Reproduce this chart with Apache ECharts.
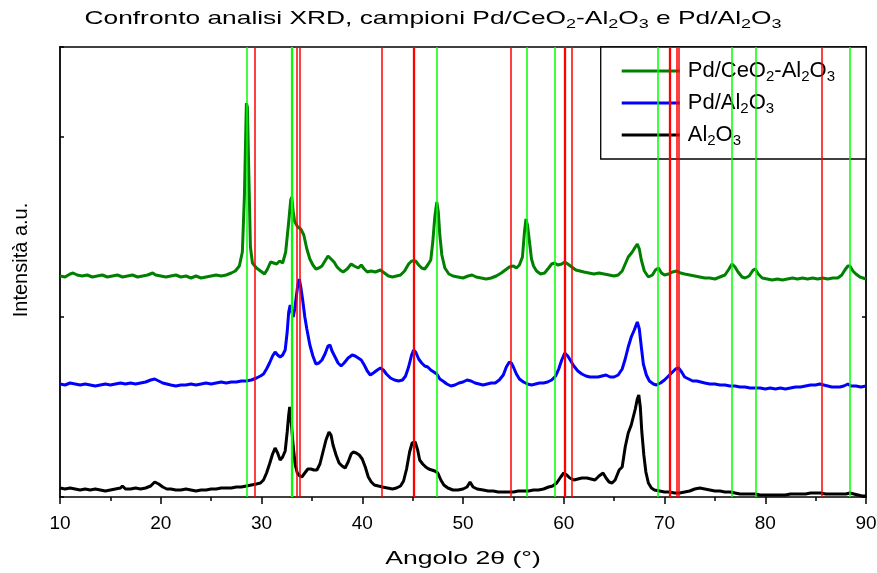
<!DOCTYPE html>
<html>
<head>
<meta charset="utf-8">
<script src="https://cdn.jsdelivr.net/npm/echarts@6/dist/echarts.min.js"></script>
<style>html,body{margin:0;padding:0;background:#fff}#c{width:877px;height:573px}</style>
</head>
<body>
<div id="c"></div>
<script>
// ---- data ----
const seriesNames = ['Pd/CeO2-Al2O3', 'Pd/Al2O3', 'Al2O3'];
const xTicks = [10, 20, 30, 40, 50, 60, 70, 80, 90];
const greenRefLines = [28.56, 33.0, 47.39, 56.28, 59.06, 69.36, 76.67, 79.01, 88.38];
const redRefLines = [29.29, 33.49, 33.75, 41.96, 45.07, 54.7, 60.12, 60.82, 70.51, 71.24, 71.44, 85.57];

const pdCeAl = [
[10.0,221],[10.5,220],[11.0,223],[11.3,224],[11.7,222],[12.2,221],[12.7,222],[13.2,220],[13.7,221],[14.2,222],[14.7,220],[15.2,221],[15.7,222],[16.2,220],[16.7,221],[17.2,222],[17.7,220],[18.2,221],[18.7,222],[19.2,224],[19.5,222],[20.0,221],[20.5,220],[21.0,221],[21.5,222],[22.0,220],[22.5,221],[23.0,219],[23.5,221],[24.0,219],[24.5,220],[25.0,221],[25.5,222],[26.0,221],[26.5,222],[27.0,224],[27.4,226],[27.8,231],[28.1,245],[28.3,300],[28.5,394],[28.6,390],[28.75,320],[28.9,250],[29.1,234],[29.5,229],[29.9,226],[30.3,223],[30.6,228],[30.9,235],[31.2,234],[31.5,233],[31.8,236],[32.1,234],[32.4,245],[32.7,275],[32.9,297],[33.0,300],[33.15,285],[33.3,275],[33.6,270],[33.9,268],[34.2,262],[34.5,248],[34.8,238],[35.1,232],[35.4,228],[35.7,229],[36.0,231],[36.3,236],[36.6,241],[36.9,238],[37.2,235],[37.5,230],[37.8,227],[38.1,225],[38.5,228],[38.9,233],[39.2,231],[39.6,229],[39.9,232],[40.2,228],[40.5,225],[40.9,226],[41.3,225],[41.8,227],[42.2,224],[42.6,221],[43.0,220],[43.4,221],[43.8,222],[44.2,226],[44.6,233],[44.9,236],[45.3,236],[45.6,232],[45.9,229],[46.2,228],[46.5,232],[46.8,237],[47.0,255],[47.2,280],[47.4,295],[47.55,285],[47.7,262],[47.9,242],[48.2,229],[48.6,223],[49.0,221],[49.5,220],[50.0,219],[50.5,221],[50.9,222],[51.3,220],[51.8,219],[52.3,218],[52.8,219],[53.3,221],[53.8,224],[54.2,227],[54.6,230],[55.0,231],[55.3,229],[55.6,232],[55.9,240],[56.1,265],[56.25,278],[56.4,272],[56.6,255],[56.8,238],[57.0,231],[57.3,226],[57.7,223],[58.1,224],[58.5,229],[58.8,233],[59.1,234],[59.4,232],[59.8,233],[60.1,235],[60.4,233],[60.8,230],[61.2,227],[61.6,226],[62.0,225],[62.5,224],[63.0,223],[63.5,224],[64.0,223],[64.5,222],[65.0,221],[65.4,222],[65.8,226],[66.1,233],[66.4,240],[66.8,245],[67.1,250],[67.3,253],[67.5,248],[67.7,237],[68.0,226],[68.4,220],[68.8,222],[69.1,227],[69.4,229],[69.7,224],[70.0,222],[70.4,223],[70.8,225],[71.2,226],[71.6,224],[72.0,223],[72.5,222],[73.0,221],[73.5,220],[74.0,219],[74.5,219],[75.0,218],[75.5,220],[76.0,222],[76.4,228],[76.7,233],[77.0,230],[77.3,225],[77.7,220],[78.0,219],[78.4,221],[78.8,227],[79.0,228],[79.3,223],[79.7,219],[80.2,218],[80.7,217],[81.2,218],[81.7,217],[82.2,218],[82.7,219],[83.2,218],[83.7,219],[84.2,218],[84.7,219],[85.2,218],[85.7,219],[86.2,218],[86.7,219],[87.2,219],[87.6,222],[87.9,227],[88.2,231],[88.4,231],[88.7,226],[89.0,223],[89.4,220],[89.7,219],[90.0,218]
];

const pdAl = [
[10.0,113],[10.5,112],[11.0,114],[11.5,113],[12.0,112],[12.5,113],[13.0,112],[13.5,111],[14.0,112],[14.5,113],[15.0,112],[15.5,113],[16.0,114],[16.5,113],[17.0,114],[17.5,113],[18.0,114],[18.5,115],[19.0,117],[19.4,118],[19.8,116],[20.2,114],[20.6,113],[21.0,112],[21.5,111],[22.0,112],[22.5,112],[23.0,113],[23.5,112],[24.0,113],[24.5,114],[25.0,113],[25.5,114],[26.0,115],[26.5,114],[27.0,115],[27.5,115],[28.0,116],[28.5,116],[29.0,117],[29.5,119],[29.9,121],[30.2,123],[30.5,128],[30.8,134],[31.1,141],[31.35,145],[31.6,142],[31.85,140],[32.1,142],[32.35,147],[32.55,165],[32.7,185],[32.85,192],[33.0,185],[33.15,180],[33.3,188],[33.45,200],[33.6,212],[33.75,218],[33.9,210],[34.1,196],[34.3,180],[34.5,168],[34.8,152],[35.1,141],[35.4,133],[35.7,134],[36.0,137],[36.3,143],[36.6,151],[36.8,152],[37.0,146],[37.3,140],[37.6,134],[37.9,131],[38.2,134],[38.6,139],[39.0,142],[39.3,141],[39.6,139],[39.9,137],[40.2,132],[40.5,126],[40.8,122],[41.1,124],[41.5,127],[41.8,129],[42.1,127],[42.4,123],[42.8,119],[43.2,117],[43.6,116],[44.0,117],[44.3,121],[44.6,130],[44.9,142],[45.1,147],[45.3,145],[45.6,138],[45.9,134],[46.2,131],[46.5,130],[46.8,127],[47.1,125],[47.4,123],[47.7,118],[48.0,116],[48.4,113],[48.8,111],[49.2,112],[49.6,114],[50.0,115],[50.4,117],[50.8,116],[51.2,114],[51.6,113],[52.0,112],[52.4,113],[52.8,114],[53.2,114],[53.6,117],[54.0,122],[54.3,130],[54.6,135],[54.8,134],[55.0,130],[55.3,123],[55.6,118],[56.0,115],[56.4,113],[56.8,112],[57.2,113],[57.6,114],[58.0,114],[58.4,115],[58.8,117],[59.2,121],[59.5,128],[59.8,137],[60.1,144],[60.4,141],[60.7,136],[61.0,131],[61.4,126],[61.8,123],[62.2,121],[62.6,120],[63.0,120],[63.4,120],[63.8,121],[64.2,122],[64.6,120],[65.0,120],[65.4,122],[65.8,128],[66.1,138],[66.4,150],[66.7,160],[67.0,167],[67.3,175],[67.5,168],[67.7,150],[67.9,133],[68.2,122],[68.5,116],[68.9,113],[69.2,112],[69.6,114],[70.0,117],[70.4,121],[70.8,125],[71.1,128],[71.4,129],[71.7,125],[72.0,120],[72.4,118],[72.8,116],[73.2,116],[73.6,115],[74.0,114],[74.5,113],[75.0,113],[75.5,112],[76.0,112],[76.5,111],[77.0,111],[77.5,110],[78.0,110],[78.5,109],[79.0,109],[79.5,109],[80.0,108],[80.5,109],[81.0,108],[81.5,109],[82.0,108],[82.5,109],[83.0,110],[83.5,110],[84.0,111],[84.5,112],[85.0,112],[85.4,113],[85.8,112],[86.2,111],[86.6,110],[87.0,110],[87.4,110],[87.8,111],[88.2,113],[88.5,111],[89.0,111],[89.5,110],[90.0,111]
];

const al = [
[10.0,9],[10.5,8],[11.0,9],[11.5,8],[12.0,7],[12.5,8],[13.0,7],[13.5,8],[14.0,7],[14.5,6],[15.0,7],[15.5,8],[16.0,9],[16.2,11],[16.5,8],[17.0,8],[17.5,9],[18.0,8],[18.5,9],[19.0,11],[19.4,15],[19.8,13],[20.2,10],[20.6,8],[21.0,8],[21.5,7],[22.0,7],[22.5,8],[23.0,7],[23.5,6],[24.0,7],[24.5,7],[25.0,8],[25.5,8],[26.0,9],[26.5,9],[27.0,9],[27.5,10],[28.0,10],[28.5,11],[29.0,12],[29.5,13],[29.9,14],[30.2,17],[30.5,24],[30.8,33],[31.1,43],[31.35,49],[31.6,44],[31.85,37],[32.1,40],[32.35,46],[32.55,65],[32.7,82],[32.8,90],[32.95,75],[33.15,50],[33.35,32],[33.55,24],[33.8,21],[34.0,20],[34.3,24],[34.6,28],[34.9,28],[35.2,27],[35.5,27],[35.8,33],[36.1,45],[36.4,57],[36.7,65],[36.9,62],[37.1,52],[37.4,42],[37.7,34],[38.0,31],[38.3,29],[38.6,35],[38.9,43],[39.1,45],[39.4,44],[39.7,42],[40.0,38],[40.3,30],[40.6,20],[40.9,15],[41.2,12],[41.6,11],[42.0,10],[42.5,9],[43.0,8],[43.4,9],[43.8,11],[44.1,16],[44.4,28],[44.7,45],[44.95,54],[45.25,55],[45.5,47],[45.7,37],[46.0,33],[46.3,30],[46.6,28],[46.9,27],[47.2,26],[47.5,24],[47.8,17],[48.1,12],[48.5,9],[49.0,7],[49.5,7],[50.0,8],[50.4,10],[50.7,15],[51.0,10],[51.4,8],[52.0,7],[52.5,6],[53.0,6],[53.5,5],[54.0,5],[54.5,5],[55.0,5],[55.5,6],[56.0,6],[56.5,6],[57.0,7],[57.5,7],[58.0,8],[58.5,10],[58.9,11],[59.3,14],[59.7,20],[60.0,24],[60.3,22],[60.6,19],[61.0,17],[61.4,18],[61.8,19],[62.3,19],[62.7,18],[63.1,17],[63.5,21],[63.9,24],[64.2,19],[64.5,15],[64.8,14],[65.1,17],[65.5,27],[65.8,30],[66.1,50],[66.4,64],[66.7,72],[66.9,80],[67.1,88],[67.3,98],[67.45,102],[67.6,90],[67.75,65],[67.95,42],[68.15,25],[68.4,14],[68.7,9],[69.0,7],[69.5,6],[70.0,5],[70.5,5],[71.0,4],[71.5,4],[72.0,5],[72.5,6],[73.0,8],[73.5,9],[74.0,8],[74.5,7],[75.0,6],[75.5,6],[76.0,5],[76.5,5],[77.0,4],[77.5,3],[78.0,3],[78.5,3],[79.0,3],[79.5,2],[80.0,2],[80.5,2],[81.0,2],[81.5,2],[82.0,2],[82.5,3],[83.0,3],[83.5,3],[84.0,3],[84.5,4],[85.0,4],[85.5,4],[86.0,3],[86.5,3],[87.0,3],[87.5,3],[88.0,3],[88.4,4],[88.8,3],[89.2,2],[89.6,1],[90.0,1]
];

// ---- chart ----
const FONT = 'Liberation Sans, Arial, sans-serif';
const titleText = 'Confronto analisi XRD, campioni Pd/CeO{s|2}-Al{s|2}O{s|3} e Pd/Al{s|2}O{s|3}';
const xName = 'Angolo 2θ (°)';
const yName = 'Intensità a.u.';
const legendLabels = {
  'Pd/CeO2-Al2O3': 'Pd/CeO{s|2}-Al{s|2}O{s|3}',
  'Pd/Al2O3': 'Pd/Al{s|2}O{s|3}',
  'Al2O3': 'Al{s|2}O{s|3}'
};
const colors = ['#008000', '#0000ff', '#000000'];
const curves = [pdCeAl, pdAl, al];
// reference lines drawn slightly heavier (style only)
const heavyLines = [33.0, 45.07, 60.12, 70.51];

const chart = echarts.init(document.getElementById('c'), null, {renderer: 'canvas'});
const series = curves.map((d, i) => ({
  name: seriesNames[i], type: 'line', data: d, showSymbol: false, symbol: 'none',
  color: colors[i], lineStyle: {color: colors[i], width: 3}, z: 3,
  emphasis: {disabled: true}, silent: true, animation: false
}));
const refSeries = (vals, col) => ({
  type: 'line', data: [], silent: true, z: 4,
  markLine: {
    silent: true, symbol: ['none', 'none'], label: {show: false}, animation: false,
    lineStyle: {color: col, width: 1.5, type: 'solid'},
    emphasis: {disabled: true},
    data: vals.map(v => ({xAxis: v, lineStyle: {color: col, width: heavyLines.includes(v) ? 2.3 : 1.5}}))
  }
});
series.push(refSeries(greenRefLines, '#00ff00'));
series.push(refSeries(redRefLines, '#ff0000'));

chart.setOption({
  animation: false,
  backgroundColor: '#fff',
  graphic: [{
    type: 'text', x: 433, y: 19, scaleX: 1.386, silent: true,
    style: {
      text: titleText, fontFamily: FONT, fontSize: 19, fill: '#000', lineHeight: 24,
      align: 'center', verticalAlign: 'middle',
      rich: {s: {fontFamily: FONT, fontSize: 13, lineHeight: 13, verticalAlign: 'bottom', fill: '#000'}}
    }
  }, {
    type: 'text', x: 463, y: 559, scaleX: 1.4, silent: true,
    style: {text: xName, fontFamily: FONT, fontSize: 19, fill: '#000', align: 'center', verticalAlign: 'middle'}
  }],
  legend: {
    data: seriesNames, orient: 'vertical', right: 11, top: 47,
    backgroundColor: '#fff', borderColor: '#000', borderWidth: 1.3,
    padding: [11, 31, 11, 21], itemGap: 6, itemWidth: 58, itemHeight: 3, icon: 'rect',
    selectedMode: false,
    formatter: n => legendLabels[n],
    textStyle: {fontFamily: FONT, fontSize: 22, color: '#000', lineHeight: 26, padding: [0, 0, 0, 3],
      rich: {s: {fontFamily: FONT, fontSize: 15, lineHeight: 15, verticalAlign: 'bottom', color: '#000'}}}
  },
  grid: {left: 60, right: 11, top: 47, bottom: 76, containLabel: false, outerBoundsMode: 'none'},
  xAxis: [{
    type: 'value', min: xTicks[0], max: xTicks[xTicks.length - 1], interval: 10, position: 'bottom',
    axisLine: {show: true, onZero: false, lineStyle: {color: '#000', width: 1.5}},
    axisTick: {show: true, inside: false, length: 7, lineStyle: {color: '#000', width: 1.5}},
    minorTick: {show: true, splitNumber: 2, length: 4, lineStyle: {color: '#000', width: 1.5}},
    axisLabel: {fontFamily: FONT, fontSize: 19, color: '#000', margin: 17},
    splitLine: {show: false}
  }, {
    type: 'value', min: 10, max: 90, position: 'top',
    axisLine: {show: true, onZero: false, lineStyle: {color: '#000', width: 1.5}},
    axisTick: {show: false}, axisLabel: {show: false}, splitLine: {show: false}
  }],
  yAxis: [{
    type: 'value', min: 0, max: 450, interval: 180,
    axisLine: {show: true, onZero: false, lineStyle: {color: '#000', width: 1.8}},
    axisTick: {show: true, inside: true, length: 4, lineStyle: {color: '#000', width: 1.5}},
    axisLabel: {show: false}, splitLine: {show: false},
    name: yName, nameLocation: 'middle', nameGap: 29,
    nameTextStyle: {fontFamily: FONT, fontSize: 20, color: '#000', padding: [0, 0, 0, 24]}
  }, {
    type: 'value', min: 0, max: 450, interval: 180, position: 'right',
    axisLine: {show: true, onZero: false, lineStyle: {color: '#000', width: 1.8}},
    axisTick: {show: true, inside: true, length: 4, lineStyle: {color: '#000', width: 1.5}},
    axisLabel: {show: false}, splitLine: {show: false}
  }],
  series: series
});
</script>
</body>
</html>
